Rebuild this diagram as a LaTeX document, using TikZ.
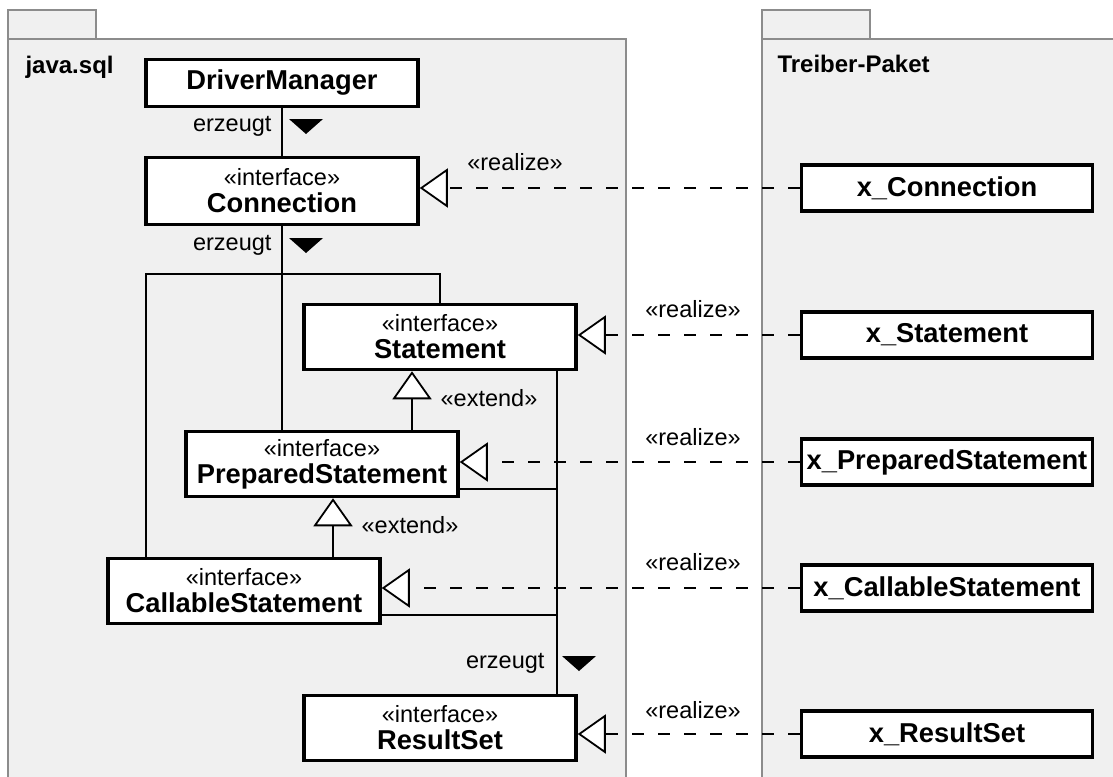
\documentclass[tikz,border=0pt]{standalone}
\usepackage{fontspec}
\setmainfont{Liberation Sans}
\usepackage{tikz}
\usetikzlibrary{arrows.meta,positioning,calc}
\definecolor{PkgLine}{HTML}{8C8C8C}
\definecolor{PkgFill}{HTML}{F0F0F0}
\newcommand{\bigbf}{\fontsize{27.3}{30}\selectfont\bfseries}

\tikzset{
  pkg/.style={draw=PkgLine,fill=PkgFill,line width=1.8pt},
  pkglabel/.style={font=\fontsize{24}{28}\selectfont\bfseries,anchor=base west},
  iface/.style={draw,fill=white,line width=3.5pt,align=center,inner sep=0pt,
    minimum width=272pt,minimum height=65pt,font=\fontsize{23.5}{27}\selectfont},
  impl/.style={draw,fill=white,line width=3.5pt,inner sep=0pt,
    minimum width=291pt,minimum height=46pt,font=\bigbf},
  conn/.style={line width=1.8pt},
  realize/.style={conn,dash pattern=on 12pt off 14pt,
    -{Triangle[fill=white,length=28pt,width=39pt]}},
  extend/.style={conn,-{Triangle[fill=white,length=28pt,width=39pt]}},
  note/.style={font=\fontsize{23.5}{27}\selectfont},
}

\begin{document}
\begin{tikzpicture}[x=1pt,y=-1pt]
    \useasboundingbox (0,0) rectangle (1113,776);
    \clip (0,0) rectangle (1113,776);
    % packages
    \draw[pkg] (8,10) rectangle (96,39);
    \draw[pkg] (8,39) rectangle (626,800);
    \draw[pkg] (762,10) rectangle (870,39);
    \draw[pkg] (762,39) rectangle (1140,800);
    \node[pkglabel] (sqlpkg) at (22,74) {java.sql};
    \node[pkglabel] (drvpkg) at (774,72) {Treiber-Paket};

    % java.sql classes
    \node[iface,minimum height=47pt] (dm) at (282,83) {\bigbf DriverManager};
    \node[iface,minimum height=67pt] (conn) at (282,191) {«interface»\\{\bigbf Connection}};
    \node[iface] (stmt) at (440,337) {«interface»\\{\bigbf Statement}};
    \node[iface] (prep) at (322,464) {«interface»\\{\bigbf PreparedStatement}};
    \node[iface] (call) at (244,591) {«interface»\\{\bigbf CallableStatement}};
    \node[iface] (rs) at (440,728) {«interface»\\{\bigbf ResultSet}};

    % driver classes
    \node[impl] (xconn) at (947,188) {x\_Connection};
    \node[impl] (xstmt) at (947,335) {x\_Statement};
    \node[impl] (xprep) at (947,462) {x\_PreparedStatement};
    \node[impl] (xcall) at (947,588) {x\_CallableStatement};
    \node[impl] (xrs) at (947,734) {x\_ResultSet};

    % erzeugt
    \draw[conn] (dm.south) -- (conn.north);
    \draw[conn] (conn.south) -- (conn.south |- prep.north);
    \coordinate (loopL) at (146,274);
    \draw[conn] (stmt.north) |- (loopL) -- (loopL |- call.north);
    \coordinate (bus) at (557,0);
    \draw[conn] (bus |- stmt.south) -- (bus |- rs.north);
    \coordinate (prepT) at ([yshift=9pt]prep.south east);
    \draw[conn] (prepT) -- (prepT -| bus);
    \coordinate (callT) at ([yshift=10pt]call.south east);
    \draw[conn] (callT) -- (callT -| bus);
    \node[note,anchor=east] (erz1) at (275,126) {erzeugt};
    \node[note,anchor=east] (erz2) at (275,245) {erzeugt};
    \node[note,anchor=east] (erz3) at (548,663) {erzeugt};
    \fill ([shift={(14,-7)}]erz1.east) -- ++(34,0) -- ++(-17,15) -- cycle;
    \fill ([shift={(14,-7)}]erz2.east) -- ++(34,0) -- ++(-17,15) -- cycle;
    \fill ([shift={(14,-7)}]erz3.east) -- ++(34,0) -- ++(-17,15) -- cycle;

    % extend
    \coordinate (ext1) at (412,0);
    \draw[extend] (ext1 |- prep.north) -- (ext1 |- stmt.south);
    \coordinate (ext2) at (333,0);
    \draw[extend] (ext2 |- call.north) -- (ext2 |- prep.south);
    \node[note] (ex1) at (489,398) {«extend»};
    \node[note] (ex2) at (410,525) {«extend»};

    % realize
    \draw[realize] (xconn.west) -- (xconn.west -| conn.east);
    \draw[realize] (xstmt.west) -- (xstmt.west -| stmt.east);
    \draw[realize] (xprep.west) -- (xprep.west -| prep.east);
    \draw[realize] (xcall.west) -- (xcall.west -| call.east);
    \draw[realize] (xrs.west) -- (xrs.west -| rs.east);
    \node[note] (rz1) at (515,162) {«realize»};
    \node[note] (rz2) at (693,309) {«realize»};
    \node[note] (rz3) at (693,437) {«realize»};
    \node[note] (rz4) at (693,562) {«realize»};
    \node[note] (rz5) at (693,710) {«realize»};
\end{tikzpicture}
\end{document}
